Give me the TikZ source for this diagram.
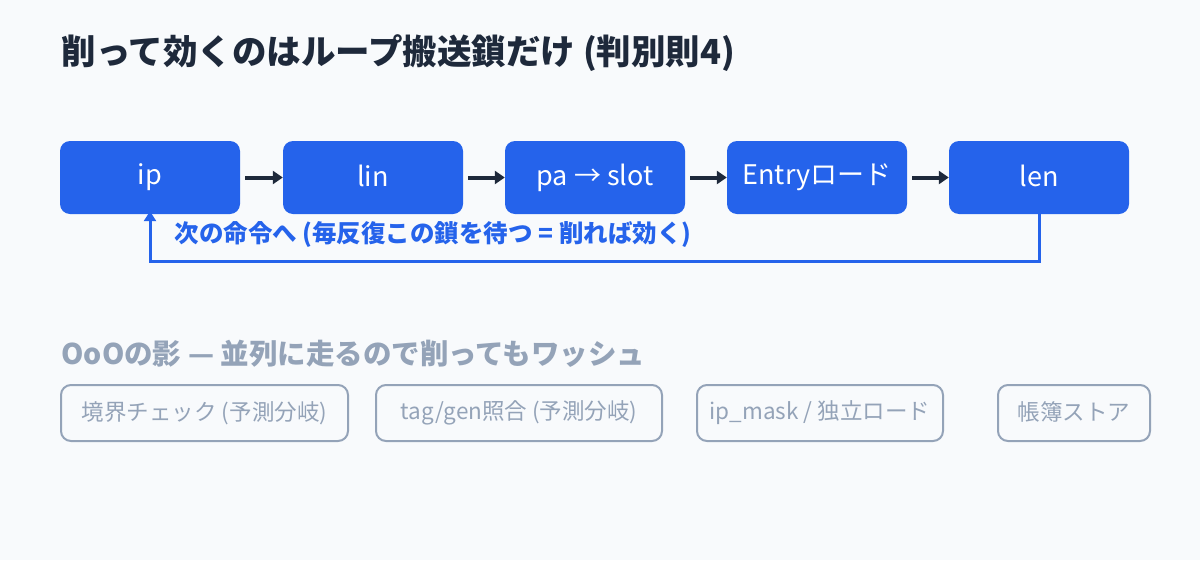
\documentclass[tikz,border=0pt]{standalone}
\usepackage{fontspec}
\setmainfont{Noto Sans CJK JP}
\usetikzlibrary{arrows.meta}
\definecolor{bg}{HTML}{F8FAFC}
\definecolor{ink}{HTML}{1E293B}
\definecolor{blu}{HTML}{2563EB}
\definecolor{gry}{HTML}{94A3B8}
\tikzset{
  stage/.style={draw=none, fill=blu, rounded corners=10pt, minimum width=180pt, minimum height=73pt, text=white, font=\fontsize{27}{31}\selectfont, inner sep=0pt},
  shadow/.style={draw=gry, line width=2pt, fill=none, rounded corners=10pt, minimum height=56pt, text=gry, font=\fontsize{22.5}{26}\selectfont, inner sep=0pt},
  flow/.style={draw=ink, line width=4pt, -{Triangle[length=10pt,width=13pt]}},
  loop/.style={draw=blu, line width=3pt, -{Triangle[length=10pt,width=12pt]}},
}
\begin{document}
\begin{tikzpicture}[x=1pt,y=-1pt]
\useasboundingbox[fill=bg] (0,0) rectangle (1200,560);
\node[anchor=west, text=ink, font=\fontsize{34.5}{38}\selectfont\bfseries] (title) at (58,53) {削って効くのはループ搬送鎖だけ (判別則4)};
\node[stage] (ip) at (150,177.5) {\raisebox{4pt}{ip}};
\node[stage] (lin) at (373,177.5) {\raisebox{3pt}{lin}};
\node[stage] (pa) at (595,177.5) {\raisebox{4pt}{pa → slot}};
\node[stage] (en) at (817,177.5) {\raisebox{7pt}{Entryロード}};
\node[stage] (len) at (1039,177.5) {\raisebox{3pt}{len}};
\draw[flow] ([xshift=5pt]ip.east) -- (lin.west);
\draw[flow] ([xshift=5pt]lin.east) -- (pa.west);
\draw[flow] ([xshift=5pt]pa.east) -- (en.west);
\draw[flow] ([xshift=5pt]en.east) -- (len.west);
\coordinate (c1) at (1039,261);
\coordinate (c2) at (150,261);
\draw[loop] (len.south) -- (c1) -- (c2) -- ([yshift=3pt]ip.south);
\node[anchor=west, text=blu, font=\fontsize{24.5}{28}\selectfont\bfseries] (lbl) at (171,235) {次の命令へ (毎反復この鎖を待つ = 削れば効く)};
\node[anchor=west, text=gry, font=\fontsize{28.5}{32}\selectfont\bfseries] (sub) at (58,354) {OoOの影 — 並列に走るので削ってもワッシュ};
\node[shadow, minimum width=287pt] (s1) at (204.5,413) {\raisebox{3pt}{境界チェック (予測分岐)}};
\node[shadow, minimum width=286pt] (s2) at (519,413) {\raisebox{3pt}{tag/gen照合 (予測分岐)}};
\node[shadow, minimum width=246pt] (s3) at (820,413) {\raisebox{3pt}{ip\_mask / 独立ロード}};
\node[shadow, minimum width=152pt] (s4) at (1074,413) {\raisebox{3pt}{帳簿ストア}};
\end{tikzpicture}
\end{document}
